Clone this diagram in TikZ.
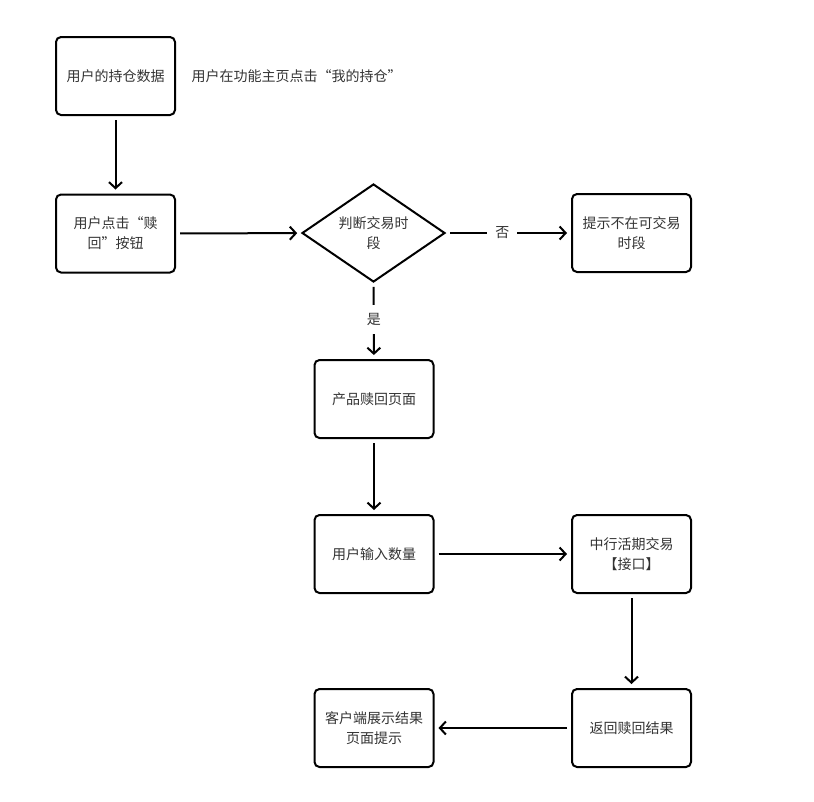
\documentclass[tikz,border=0pt]{standalone}
\usepackage{fontspec}
\setmainfont{Noto Sans CJK SC}
\usepackage{tikz}
\usetikzlibrary{arrows.meta, positioning, shapes.geometric}
\definecolor{colorText}{HTML}{333333}
\tikzset{
  stepbox/.style={draw, rounded corners=5pt, line width=2pt, minimum width=119pt, minimum height=78pt, align=center, text=colorText, font=\fontsize{14}{20}\selectfont},
  decision/.style={draw, diamond, aspect=1.46, line width=2pt, minimum width=143pt, minimum height=98pt, inner sep=0pt, align=center, text=colorText, font=\fontsize{14}{20}\selectfont},
  flow/.style={->, line width=2pt, shorten >=4pt, shorten <=4pt},
  flowlabel/.style={fill=white, text=colorText, font=\fontsize{14}{16}\selectfont, inner sep=8pt}
}

\begin{document}
\begin{tikzpicture}[x=1pt, y=-1pt, >={Straight Barb[length=6pt, width=13pt, line width=2pt]}]
\useasboundingbox (0,0) rectangle (814,801);
\node[stepbox] (holding) at (115.5,76) {用户的持仓数据};
\node[text=colorText, font=\fontsize{14}{16}\selectfont, anchor=west] (hint) at (188,76) {用户在功能主页点击“我的持仓”};
\node[stepbox] (click) at (115.5,233.5) {用户点击“赎\\回”按钮};
\node[decision] (check) at (373.5,233) {判断交易时\\段};
\node[stepbox] (notime) at (631.5,233) {提示不在可交易\\时段};
\node[stepbox] (redeem) at (374,399) {产品赎回页面};
\node[stepbox] (amount) at (374,554) {用户输入数量};
\node[stepbox] (api) at (631.5,554) {中行活期交易\\【接口】};
\node[stepbox] (result) at (631.5,728) {返回赎回结果};
\node[stepbox] (client) at (374,728) {客户端展示结果\\页面提示};
\draw[flow] (holding) -- (click);
\draw[flow] (click) -- (check);
\draw[flow] (check) -- node[flowlabel, pos=0.45]{否} (notime);
\draw[flow] (check) -- node[flowlabel, pos=0.48]{是} (redeem);
\draw[flow] (redeem) -- (amount);
\draw[flow] (amount) -- (api);
\draw[flow] (api) -- (result);
\draw[flow] (result) -- (client);
\end{tikzpicture}
\end{document}
